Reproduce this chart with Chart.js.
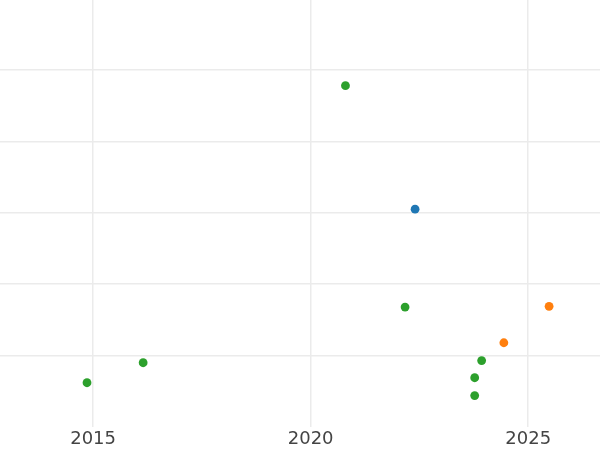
<!DOCTYPE html>
<html>
<head>
<meta charset="utf-8">
<script src="https://cdn.jsdelivr.net/npm/chart.js@4"></script>
<style>
  html, body { margin: 0; padding: 0; background: #fff; }
  #scatter { display: block; }
</style>
</head>
<body>
<canvas id="scatter" width="600" height="450"></canvas>
<script>
// points (x = year, y = unitless)
const greenYears = [2014.86, 2016.15, 2020.80, 2022.17, 2023.93, 2023.77, 2023.77];
const greenValues = [-0.38, -0.10, 3.78, 0.68, -0.07, -0.31, -0.56];
const blueYears = [2022.40];
const blueValues = [2.05];
const orangeYears = [2024.44, 2025.48];
const orangeValues = [0.18, 0.69];
const yearTicks = [2015, 2020, 2025];
const valueTicks = [0, 1, 2, 3, 4];

function toPoints(xs, ys) {
    return xs.map(function (x, i) { return { x: x, y: ys[i] }; });
}

document.addEventListener("DOMContentLoaded", function () {
    const ctx = document.getElementById("scatter").getContext("2d");

    new Chart(ctx, {
        type: "scatter",
        data: {
            datasets: [
                { label: "green", data: toPoints(greenYears, greenValues), backgroundColor: "#2ca02c", borderWidth: 0 },
                { label: "blue", data: toPoints(blueYears, blueValues), backgroundColor: "#1f77b4", borderWidth: 0 },
                { label: "orange", data: toPoints(orangeYears, orangeValues), backgroundColor: "#ff7f0e", borderWidth: 0 }
            ]
        },
        options: {
            responsive: false,
            animation: false,
            layout: { padding: 0, autoPadding: false },
            elements: { point: { radius: 4.4, hoverRadius: 4.4 } },
            plugins: {
                legend: { display: false },
                tooltip: { enabled: false }
            },
            scales: {
                x: {
                    type: "linear",
                    min: 2012.86,
                    max: 2026.65,
                    afterBuildTicks: function (axis) {
                        axis.ticks = yearTicks.map(function (v) { return { value: v }; });
                    },
                    afterFit: function (axis) {
                        axis.height = 23; // plot area ends around y=427
                    },
                    border: { display: false },
                    grid: { color: "#ebebeb", lineWidth: 1.5, drawTicks: false },
                    ticks: {
                        padding: 2,
                        color: "#444",
                        font: { family: "DejaVu Sans", size: 18 },
                        callback: function (v) { return String(v); }
                    }
                },
                y: {
                    type: "linear",
                    min: -1,
                    max: 4.98,
                    afterBuildTicks: function (axis) {
                        axis.ticks = valueTicks.map(function (v) { return { value: v }; });
                    },
                    border: { display: false },
                    grid: { color: "#ebebeb", lineWidth: 1.5, drawTicks: false },
                    ticks: { display: false }
                }
            }
        }
    });
});
</script>
</body>
</html>
